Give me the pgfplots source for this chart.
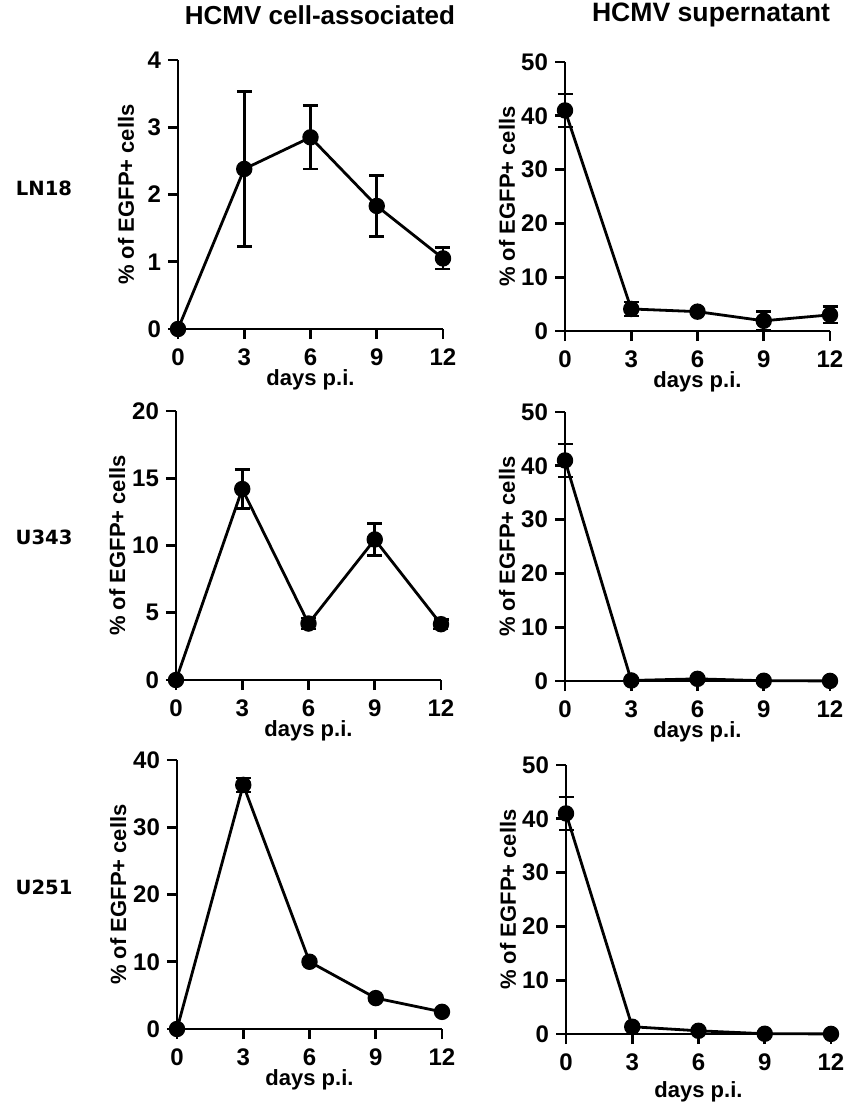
\documentclass[border=0pt]{standalone}
\usepackage{pgfplots}
\pgfplotsset{compat=1.18}
\usepackage{fontspec}
\setmainfont{Liberation Sans}
\newfontfamily\rowfont{DejaVu Sans}

\pgfplotstableread{
x y e
0 0 0
3 2.38 1.15
6 2.85 0.47
9 1.83 0.45
12 1.05 0.16
}\lnCell
\pgfplotstableread{
x y e
0 41 3.05
3 4.1 1.3
6 3.6 0
9 1.9 1.7
12 3.0 1.5
}\lnSup
\pgfplotstableread{
x y e
0 0 0
3 14.2 1.45
6 4.2 0.4
9 10.45 1.2
12 4.15 0.35
}\uthreeCell
\pgfplotstableread{
x y e
0 41 3.05
3 0.1 0
6 0.4 0
9 0.05 0
12 0.02 0
}\uthreeSup
\pgfplotstableread{
x y e
0 0 0
3 36.3 1.05
6 10 0
9 4.6 0
12 2.55 0
}\utwoCell
\pgfplotstableread{
x y e
0 41 3.05
3 1.35 0
6 0.6 0
9 0.05 0
12 0.02 0
}\utwoSup

\pgfplotsset{
  prism/.style={
    scale only axis, width=132.5pt, height=134.5pt,
    anchor=south west,
    axis lines=left, axis line style={line width=1.4pt,-},
    xmin=0, xmax=12, ymin=0, xtick={0,3,6,9,12},
    tick align=outside, major tick length=5pt,
    every tick/.style={black,line width=1.4pt},
    /pgf/number format/assume math mode=true,
    tick label style={font=\fontsize{12}{12}\selectfont\bfseries},
    xticklabel style={yshift=-1.5pt},
    xlabel={days p.i.}, ylabel={\% of EGFP+ cells},
    label style={font=\fontsize{11}{11}\selectfont\bfseries},
    xlabel style={at={(axis description cs:0.5,-0.19)}, anchor=center},
    ylabel style={at={(axis description cs:-0.196,0.5)}, anchor=center},
    clip=false,
  },
  series/.style={black, line width=1.4pt, mark=*, mark size=3.4pt,
    mark options={solid, fill=black},
    error bars/y dir=both, error bars/y explicit,
    error bars/error mark=|,
    error bars/error bar style={line width=1.3pt},
    error bars/error mark options={line width=1.3pt, mark size=3.75pt}},
}

\begin{document}
\begin{tikzpicture}
\path[use as bounding box] (0,0) rectangle (422.5pt,-552.5pt);

% column titles and row names
\node[font=\fontsize{13}{13}\selectfont\bfseries] at (320*0.5pt,-15*0.5pt) {HCMV cell-associated};
\node[font=\fontsize{13.3}{13.3}\selectfont\bfseries] at (711*0.5pt,-15*0.5pt) {HCMV supernatant};
\node[font=\rowfont\fontsize{9.8}{9.8}\selectfont\bfseries] at (44*0.5pt,-188*0.5pt) {LN18};
\node[font=\rowfont\fontsize{9.8}{9.8}\selectfont\bfseries] at (44*0.5pt,-537*0.5pt) {U343};
\node[font=\rowfont\fontsize{9.8}{9.8}\selectfont\bfseries] at (44*0.5pt,-887*0.5pt) {U251};

% LN18
\begin{axis}[prism, at={(178*0.5pt,-329*0.5pt)}, ymax=4, ytick={0,1,2,3,4}]
\addplot[series] table[x=x, y=y, y error=e] {\lnCell};
\end{axis}
\begin{axis}[prism, at={(565*0.5pt,-331*0.5pt)}, ymax=50, ytick={0,10,20,30,40,50},
  ylabel style={at={(axis description cs:-0.219,0.5)}}]
\addplot[series] table[x=x, y=y, y error=e] {\lnSup};
\end{axis}

% U343
\begin{axis}[prism, at={(176*0.5pt,-680*0.5pt)}, ymax=20, ytick={0,5,10,15,20},
  ylabel style={at={(axis description cs:-0.222,0.5)}}]
\addplot[series] table[x=x, y=y, y error=e] {\uthreeCell};
\end{axis}
\begin{axis}[prism, at={(565*0.5pt,-681*0.5pt)}, ymax=50, ytick={0,10,20,30,40,50},
  ylabel style={at={(axis description cs:-0.219,0.5)}}]
\addplot[series] table[x=x, y=y, y error=e] {\uthreeSup};
\end{axis}

% U251
\begin{axis}[prism, at={(177*0.5pt,-1029*0.5pt)}, ymax=40, ytick={0,10,20,30,40},
  ylabel style={at={(axis description cs:-0.222,0.5)}}]
\addplot[series] table[x=x, y=y, y error=e] {\utwoCell};
\end{axis}
\begin{axis}[prism, at={(566*0.5pt,-1034*0.5pt)}, ymax=50, ytick={0,10,20,30,40,50},
  ylabel style={at={(axis description cs:-0.219,0.5)}},
  xlabel style={at={(axis description cs:0.5,-0.216)}}]
\addplot[series] table[x=x, y=y, y error=e] {\utwoSup};
\end{axis}
\end{tikzpicture}
\end{document}
